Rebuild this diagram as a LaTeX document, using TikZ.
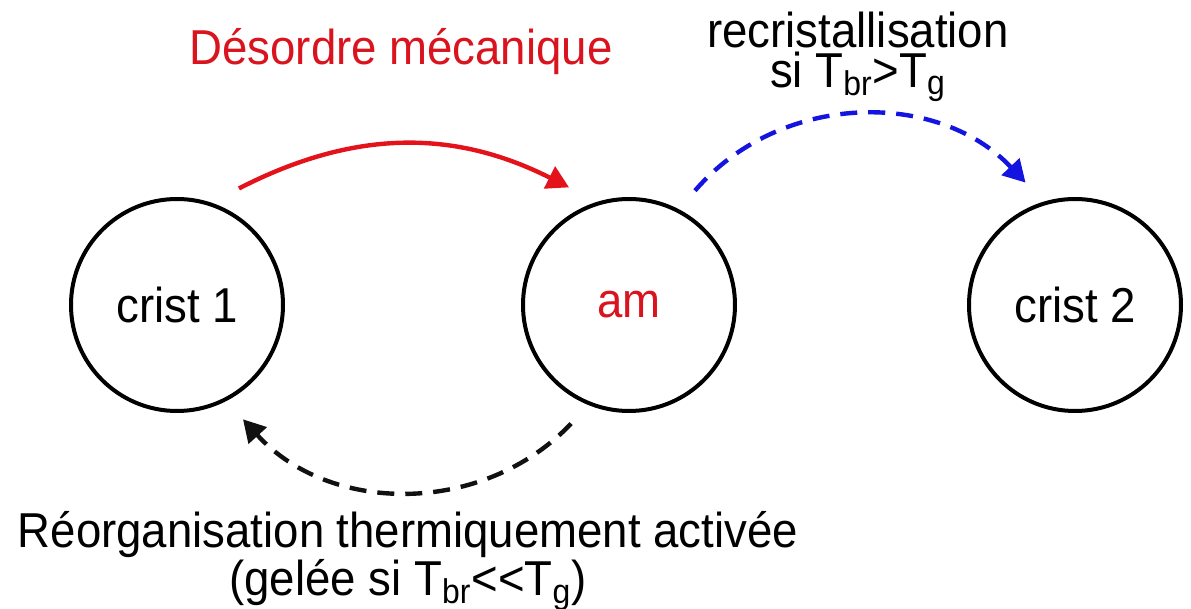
\documentclass[tikz,border=0pt]{standalone}
\usepackage{fontspec}
\setmainfont{Liberation Sans}[FakeStretch=0.93]
\usepackage{xcolor}
\usepackage{tikz}
\usetikzlibrary{arrows.meta}
\definecolor{mecared}{HTML}{E3121B}
\definecolor{mecatext}{HTML}{D9141E}
\definecolor{recristblue}{HTML}{1414E0}
\definecolor{reorgblack}{HTML}{111111}

\begin{document}
\begin{tikzpicture}[
  x=0.5pt,
  y=-0.5pt,
  every node/.style={
    align=center,
    inner sep=0pt,
    font=\fontsize{24.5pt}{19pt}\selectfont
  },
  state/.style={
    circle,
    draw=black,
    line width=2pt,
    minimum size=106pt,
    outer sep=13pt
  },
  meca/.style={
    -{Triangle[length=11pt,width=12pt]},
    draw=mecared,
    line width=2.2pt
  },
  recrist/.style={
    -{Triangle[length=11pt,width=12pt]},
    draw=recristblue,
    line width=2.2pt,
    dash pattern=on 8.5pt off 5.5pt
  },
  reorg/.style={
    -{Triangle[length=11pt,width=12pt]},
    draw=reorgblack,
    line width=2.2pt,
    dash pattern=on 8.5pt off 5.5pt
  }
]
\useasboundingbox (0,0) rectangle (1191,609);

% States
\node[state] (crist1) at (177,305) {crist 1};
\node[state, text=mecatext] (am) at (629,305) {am};
\node[state] (crist2) at (1075,305) {crist 2};

% Labels
\node[text=mecatext] (lblmeca) at (401,52) {Désordre mécanique};
\node (lblrecrist) at (858,57) {recristallisation\\[1pt]si T\textsubscript{br}>T\textsubscript{g}};
\node (lblreorg) at (408,561) {Réorganisation thermiquement activée\\(gelée si T\textsubscript{br}<\kern0pt<T\textsubscript{g})};

% Transitions
\draw[meca] (crist1.62) to[bend left=27] (am.117);
\draw[recrist] (am.60) to[bend left=48] (crist2.112);
\draw[reorg] (am.244) to[bend left=47] (crist1.300);

\end{tikzpicture}
\end{document}
